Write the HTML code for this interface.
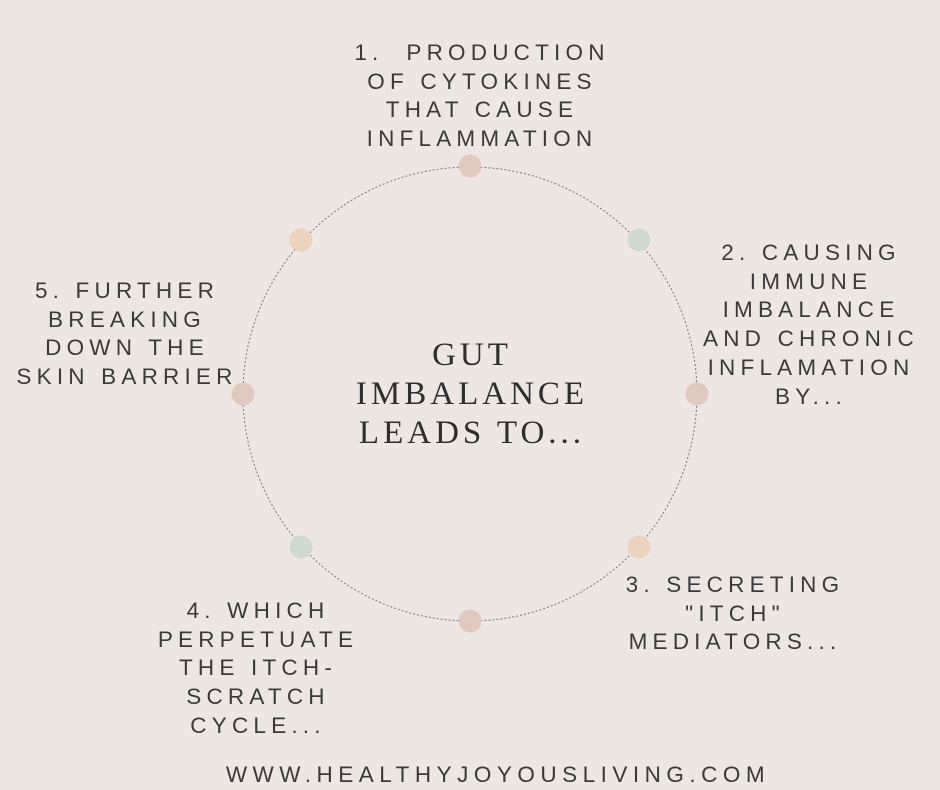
<!DOCTYPE html>
<html><head><meta charset="utf-8"><style>
body{margin:0;width:940px;height:788px;background:#ede6e3;position:relative;overflow:hidden;font-family:"Liberation Sans",sans-serif;color:#3a3a3a}
.t{position:absolute;text-align:center;font-size:22.5px;letter-spacing:5.2px;line-height:28.7px;white-space:nowrap;transform:translateX(-50%)}
.title{position:absolute;left:472px;top:336px;transform:translateX(-50%);text-align:center;font-family:"Liberation Serif",serif;font-size:33px;letter-spacing:4px;line-height:39px;color:#2e2e2e;white-space:nowrap}
</style></head><body>
<svg width="940" height="788" style="position:absolute;left:0;top:0">
<circle cx="470" cy="394" r="227" fill="none" stroke="#777" stroke-width="1" stroke-dasharray="2,2"/>
<circle cx="470" cy="166" r="11.5" fill="#dfc9c1"/>
<circle cx="639" cy="240" r="11.5" fill="#cfd9d0"/>
<circle cx="697" cy="394" r="11.5" fill="#dfc9c1"/>
<circle cx="639" cy="547" r="11.5" fill="#ebd3be"/>
<circle cx="470" cy="621" r="11.5" fill="#dfc9c1"/>
<circle cx="301" cy="547" r="11.5" fill="#cfd9d0"/>
<circle cx="243" cy="394" r="11.5" fill="#dfc9c1"/>
<circle cx="301" cy="240" r="11.5" fill="#ebd3be"/>
</svg>
<div class="t" style="left:482px;top:39px">1.&nbsp;&nbsp;PRODUCTION<br>OF CYTOKINES<br>THAT CAUSE<br>INFLAMMATION</div>
<div class="t" style="left:811px;top:239px">2. CAUSING<br>IMMUNE<br>IMBALANCE<br>AND CHRONIC<br>INFLAMATION<br>BY...</div>
<div class="t" style="left:735px;top:571px">3. SECRETING<br>"ITCH"<br>MEDIATORS...</div>
<div class="t" style="left:258px;top:597px">4. WHICH<br>PERPETUATE<br>THE ITCH-<br>SCRATCH<br>CYCLE...</div>
<div class="t" style="left:127px;top:277px">5. FURTHER<br>BREAKING<br>DOWN THE<br>SKIN BARRIER</div>
<div class="title">GUT<br>IMBALANCE<br>LEADS TO...</div>
<div class="t" style="left:498px;top:761px;letter-spacing:5.5px">WWW.HEALTHYJOYOUSLIVING.COM</div>
</body></html>
